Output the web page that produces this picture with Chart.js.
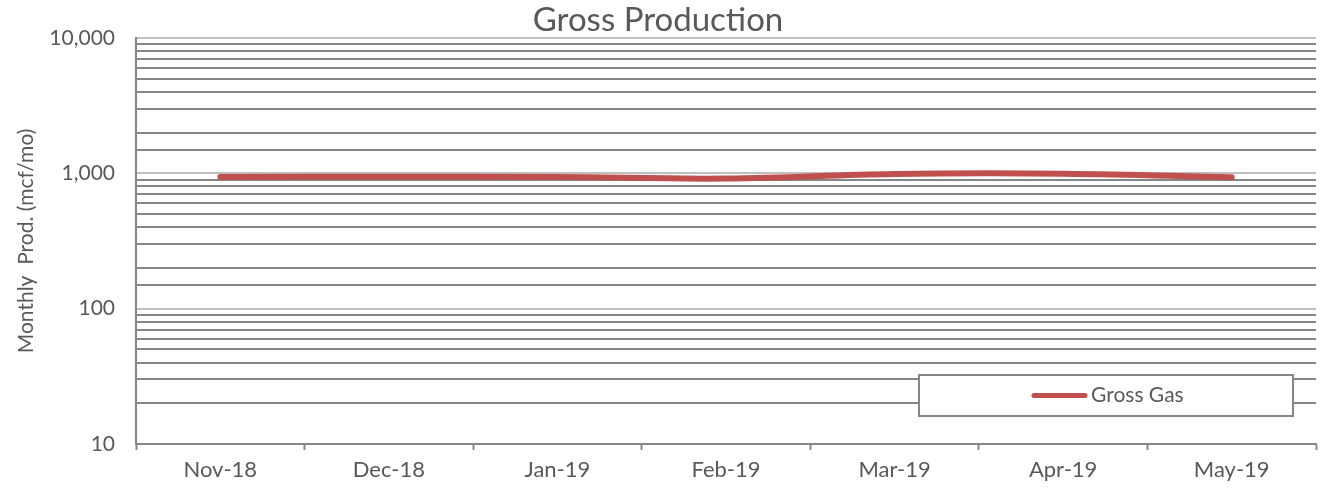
<!DOCTYPE html>
<html>
<head>
<meta charset="utf-8">
<script src="https://cdn.jsdelivr.net/npm/chart.js@4.4.1/dist/chart.umd.min.js"></script>
<style>
  html, body { margin: 0; padding: 0; background: #fff; }
  #wrap { width: 1324px; height: 491px; position: relative; }
</style>
</head>
<body>
<div id="wrap"><canvas id="c" width="1324" height="491"></canvas></div>
<script>
const categories = ['Nov-18', 'Dec-18', 'Jan-19', 'Feb-19', 'Mar-19', 'Apr-19', 'May-19'];
const grossGas = [940, 945, 940, 915, 990, 995, 935];
const seriesLabel = 'Gross Gas';
const chartTitle = 'Gross Production';
const yAxisTitle = 'Monthly  Prod. (mcf/mo)';
const yMin = 10;
const yMax = 10000;

const FONT = 'Lato, "Open Sans", sans-serif';
const TEXT = '#595959';
const LINE_COLOR = '#C0504D';

function isMajor(v) {
  const l = Math.log10(v);
  return Math.abs(l - Math.round(l)) < 1e-9;
}

const insideLegend = {
  id: 'insideLegend',
  afterDraw(chart) {
    const ctx = chart.ctx;
    const a = chart.chartArea;
    const x0 = a.left + 783, x1 = a.right - 23;
    const y0 = a.bottom - 69, y1 = a.bottom - 28;
    ctx.save();
    ctx.fillStyle = '#ffffff';
    ctx.fillRect(x0, y0, x1 - x0, y1 - y0);
    ctx.strokeStyle = '#868686';
    ctx.lineWidth = 2;
    ctx.strokeRect(x0, y0, x1 - x0, y1 - y0);
    const ym = (y0 + y1) / 2;
    const ds = chart.data.datasets[0];
    ctx.strokeStyle = ds.borderColor;
    ctx.lineWidth = 5;
    ctx.lineCap = 'round';
    ctx.beginPath();
    ctx.moveTo(x0 + 115, ym);
    ctx.lineTo(x0 + 166, ym);
    ctx.stroke();
    ctx.fillStyle = TEXT;
    ctx.font = '21px ' + FONT;
    ctx.textBaseline = 'middle';
    ctx.textAlign = 'left';
    ctx.fillText(ds.label, x0 + 172, ym);
    ctx.restore();
  }
};

new Chart(document.getElementById('c'), {
  type: 'line',
  data: {
    labels: categories,
    datasets: [{
      label: seriesLabel,
      data: grossGas,
      borderColor: LINE_COLOR,
      backgroundColor: LINE_COLOR,
      borderWidth: 6,
      borderCapStyle: 'round',
      tension: 0.4,
      pointRadius: 0,
      fill: false
    }]
  },
  options: {
    responsive: false,
    animation: false,
    devicePixelRatio: 1,
    layout: { padding: { left: 0, right: 8, top: 0, bottom: 0 } },
    plugins: {
      legend: { display: false },
      tooltip: { enabled: false },
      title: {
        display: true,
        text: chartTitle,
        color: TEXT,
        font: { family: FONT, size: 33, weight: 'normal', lineHeight: 1.0 },
        padding: { top: 4, bottom: 1 }
      }
    },
    scales: {
      x: {
        type: 'category',
        offset: true,
        grid: {
          offset: true,
          drawOnChartArea: false,
          drawTicks: true,
          tickLength: 6,
          tickWidth: 2,
          tickColor: '#868686'
        },
        border: { color: '#868686', width: 2 },
        ticks: {
          color: TEXT,
          font: { family: FONT, size: 22 },
          padding: 7,
          maxRotation: 0
        },
        afterFit(scale) { scale.height = 47; }
      },
      y: {
        type: 'logarithmic',
        min: yMin,
        max: yMax,
        grid: {
          color: (ctx) => (ctx.tick && isMajor(ctx.tick.value)) ? '#BFBFBF' : '#868686',
          lineWidth: 2,
          drawTicks: false
        },
        border: { color: '#868686', width: 2 },
        ticks: {
          autoSkip: false,
          color: TEXT,
          font: { family: FONT, size: 21 },
          padding: 21,
          callback: (v) => isMajor(v) ? Number(v).toLocaleString('en-US') : ''
        },
        title: {
          display: true,
          text: yAxisTitle,
          color: TEXT,
          font: { family: FONT, size: 21 },
          padding: { top: 14, bottom: 0 }
        },
        afterFit(scale) { scale.width = 136; }
      }
    }
  },
  plugins: [insideLegend]
});
</script>
</body>
</html>
